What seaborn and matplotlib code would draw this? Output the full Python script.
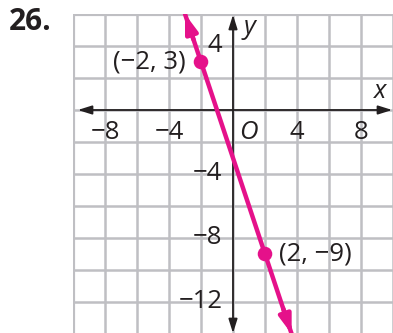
import numpy as np
import pandas as pd
import matplotlib
matplotlib.use("Agg")
import matplotlib.pyplot as plt
import seaborn as sns

# Two known points on the line
point_x = [-2, 2]
point_y = [3, -9]
point_labels = ["(−2, 3)", "(2, −9)"]

# Axis tick labels
x_ticks = [-8, -4, 4, 8]
y_ticks = [4, -4, -8, -12]
x_range = (-10, 10)
y_range = (-14, 6)

sns.set_theme(style="white")
plt.rcParams["font.family"] = ["Open Sans", "DejaVu Sans"]

PINK = "#e5118a"
GRID = "#bfbfc3"
INK = "#231f20"

fig = plt.figure(figsize=(3.93, 3.33), dpi=100)
ax = fig.add_axes([73 / 393, -1 / 333, 320 / 393, 320 / 333])
ax.set_xlim(*x_range)
ax.set_ylim(*y_range)
for s in ax.spines.values():
    s.set_visible(False)
ax.set_xticks([])
ax.set_yticks([])

# Grid every 2 units
for gx in range(x_range[0], x_range[1] + 1, 2):
    ax.axvline(gx, color=GRID, lw=3.0 if gx == x_range[0] else 1.8, zorder=1)
for gy in range(y_range[0], y_range[1] + 1, 2):
    ax.axhline(gy, color=GRID, lw=3.0 if gy == y_range[1] else 1.8, zorder=1)

# Coordinate axes with arrowheads
axis_kw = dict(arrowstyle="<|-|>,head_length=0.7,head_width=0.22",
               color=INK, lw=1.3, shrinkA=0, shrinkB=0)
ax.annotate("", xy=(9.95, 0), xytext=(-9.7, 0), arrowprops=axis_kw, zorder=3)
ax.annotate("", xy=(0, -13.95), xytext=(0, 5.95), arrowprops=axis_kw, zorder=3)

# Line through the two points, extended to the plot edges
slope = (point_y[1] - point_y[0]) / (point_x[1] - point_x[0])
intercept = point_y[0] - slope * point_x[0]
y_ends = np.array([y_range[1], y_range[0]])
x_ends = (y_ends - intercept) / slope
line_df = pd.DataFrame({"x": x_ends, "y": y_ends})
sns.lineplot(data=line_df, x="x", y="y", ax=ax, color=PINK, lw=3.2,
             sort=False, zorder=4)
arrow_kw = dict(arrowstyle="-|>,head_length=0.9,head_width=0.3",
                color=PINK, lw=3.2, shrinkA=0, shrinkB=0)
for i in range(2):
    tip = (x_ends[i], y_ends[i])
    back = (x_ends[i] + (x_ends[1 - i] - x_ends[i]) * 0.08,
            y_ends[i] + (y_ends[1 - i] - y_ends[i]) * 0.08)
    ax.annotate("", xy=tip, xytext=back, arrowprops=arrow_kw, zorder=5)

pts_df = pd.DataFrame({"x": point_x, "y": point_y})
sns.scatterplot(data=pts_df, x="x", y="y", ax=ax, color=PINK, s=110,
                edgecolor="none", zorder=6)
ax.set_xlabel("")
ax.set_ylabel("")

fs = 18.5
ax.text(point_x[0] - 0.95, point_y[0], point_labels[0], ha="right",
        va="center", fontsize=fs, color=INK, zorder=7)
ax.text(point_x[1] + 0.85, point_y[1], point_labels[1], ha="left",
        va="center", fontsize=fs, color=INK, zorder=7)

# Tick labels
for t in x_ticks:
    ax.text(t, -1.4, f"{t}".replace("-", "−"), ha="center", va="center",
            fontsize=fs, color=INK, zorder=7)
for t in y_ticks:
    ax.text(-0.65, t, f"{t}".replace("-", "−"), ha="right", va="center",
            fontsize=fs, color=INK, zorder=7)
ax.text(0.95, -1.4, "O", ha="center", va="center", fontsize=fs,
        style="italic", color=INK, zorder=7)
ax.text(9.2, 1.15, "x", ha="center", va="center", fontsize=fs,
        style="italic", color=INK, zorder=7)
ax.text(1.05, 5.15, "y", ha="center", va="center", fontsize=fs,
        style="italic", color=INK, zorder=7)

fig.text(9 / 393, 1 - 22 / 333, "26.", ha="left", va="center",
         fontsize=21.5, fontweight="bold", color=INK)

fig.savefig("out.png", dpi=100)
